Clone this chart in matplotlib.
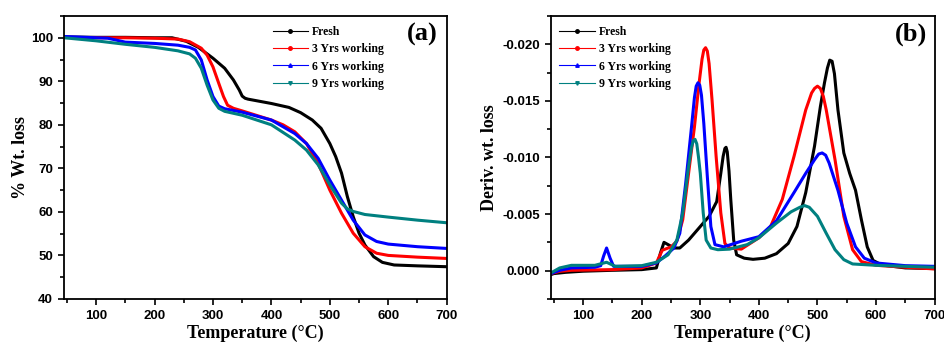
import matplotlib
matplotlib.use("Agg")
import matplotlib.pyplot as plt
from matplotlib.lines import Line2D
from matplotlib.ticker import MultipleLocator, FormatStrFormatter

plt.rcParams['axes.unicode_minus'] = False

labels = ["Fresh", "3 Yrs working", "6 Yrs working", "9 Yrs working"]
colors = ["#000000", "#ff0000", "#0000ff", "#008080"]
markers = ["o", "o", "^", "v"]

# ---- (a) TGA: temperature (°C) vs % weight ----
tga_fresh_T = [45, 100, 150, 200, 230, 254, 275, 300, 320, 335, 345, 350, 355, 360, 400, 430, 450,
               470, 485, 500, 510, 520, 530, 540, 550, 560, 575, 590, 610, 650, 700]
tga_fresh_W = [100.2, 100.1, 100.1, 100.0, 100.0, 99.2, 97.8, 95.3, 93.0, 90.3, 88.0, 86.6, 86.1,
               85.9, 84.9, 84.0, 82.8, 81.1, 79.2, 75.7, 72.7, 68.9, 63.5, 58.9, 55.1, 52.4, 49.7,
               48.4, 47.8, 47.6, 47.4]
tga_3y_T = [45, 100, 150, 200, 240, 260, 280, 290, 300, 310, 318, 325, 335, 350, 400, 420, 440,
            460, 480, 500, 520, 540, 560, 580, 600, 650, 700]
tga_3y_W = [100.1, 100.0, 100.0, 99.9, 99.7, 99.1, 97.6, 96.0, 93.3, 89.5, 86.5, 84.5, 83.8, 83.2,
            81.1, 80.0, 78.4, 75.7, 71.1, 65.0, 59.7, 55.1, 52.0, 50.5, 50.0, 49.6, 49.3]
tga_6y_T = [45, 100, 120, 150, 200, 240, 260, 270, 280, 290, 300, 310, 320, 350, 400, 440, 460,
            480, 500, 520, 540, 560, 580, 600, 650, 700]
tga_6y_W = [100.3, 100.0, 99.9, 99.0, 98.7, 98.3, 97.8, 97.2, 94.9, 90.3, 86.5, 84.3, 83.7, 82.9,
            81.1, 78.0, 75.7, 72.3, 67.3, 62.7, 58.1, 54.7, 53.2, 52.6, 52.0, 51.6]
tga_9y_T = [45, 100, 150, 200, 240, 260, 270, 280, 290, 300, 310, 320, 350, 400, 440, 460, 480,
            500, 520, 530, 540, 560, 600, 650, 700]
tga_9y_W = [100.0, 99.3, 98.5, 97.8, 97.0, 96.3, 95.3, 93.0, 89.1, 85.7, 83.8, 83.1, 82.2, 80.0,
            76.5, 74.2, 70.8, 66.2, 62.0, 60.7, 60.1, 59.4, 58.8, 58.1, 57.5]

# ---- (b) DTG: temperature (°C) vs derivative weight loss (x1e-3, sign as plotted) ----
dtg_fresh_T = [45, 50, 70, 100, 150, 200, 225, 232, 238, 245, 255, 265, 280, 300, 315, 328, 335,
               339, 342, 344, 346, 349, 352, 357, 362, 375, 390, 410, 430, 450, 465, 480, 495,
               505, 512, 517, 521, 525, 529, 535, 545, 555, 565, 575, 585, 595, 610, 650, 700]
dtg_fresh_D = [0.35, 0.26, 0.15, 0.05, -0.03, -0.09, -0.24, -1.56, -2.5, -2.3, -2.0, -2.0, -2.7,
               -3.9, -4.8, -6.1, -8.6, -10.1, -10.8, -10.9, -10.5, -8.8, -6.3, -2.7, -1.4, -1.1,
               -1.0, -1.1, -1.5, -2.4, -3.9, -6.9, -11.0, -14.5, -16.6, -17.9, -18.6, -18.5,
               -17.4, -14.2, -10.4, -8.6, -7.1, -4.5, -2.1, -0.9, -0.5, -0.24, -0.18]
dtg_3y_T = [45, 60, 80, 150, 200, 225, 235, 250, 260, 270, 280, 290, 298, 303, 306, 309, 312, 315,
            320, 327, 335, 342, 350, 370, 400, 420, 440, 460, 480, 490, 495, 500, 505, 510, 515,
            530, 545, 560, 575, 600, 650, 700]
dtg_3y_D = [0.26, 0.06, -0.03, -0.09, -0.24, -0.68, -1.8, -2.1, -2.6, -4.5, -8.6, -12.7, -16.6,
            -18.7, -19.5, -19.7, -19.4, -18.3, -15.1, -10.1, -5.1, -2.4, -2.0, -1.9, -2.9, -3.9,
            -6.3, -10.1, -14.2, -15.7, -16.1, -16.3, -16.1, -15.4, -14.2, -9.8, -4.8, -1.85,
            -0.8, -0.47, -0.3, -0.15]
dtg_6y_T = [45, 60, 80, 120, 130, 135, 140, 146, 152, 200, 225, 240, 255, 265, 275, 285, 290, 293,
            296, 299, 302, 306, 312, 318, 325, 340, 370, 400, 430, 460, 480, 495, 502, 508, 514,
            520, 535, 550, 565, 580, 600, 650, 700]
dtg_6y_D = [0.26, -0.03, -0.24, -0.3, -0.44, -1.3, -2.0, -1.1, -0.38, -0.38, -0.68, -1.3, -2.0,
            -3.3, -7.7, -12.7, -15.3, -16.3, -16.6, -16.4, -15.5, -13.0, -8.3, -3.9, -2.3, -2.1,
            -2.6, -3.0, -4.4, -6.9, -8.6, -9.8, -10.3, -10.4, -10.2, -9.5, -7.1, -4.2, -2.1,
            -1.1, -0.68, -0.44, -0.38]
dtg_9y_T = [45, 60, 80, 120, 140, 155, 200, 225, 245, 260, 270, 280, 285, 288, 291, 294, 297, 300,
            305, 310, 318, 330, 350, 380, 400, 430, 455, 470, 478, 486, 500, 515, 530, 545, 560,
            600, 650, 700]
dtg_9y_D = [0.2, -0.24, -0.47, -0.47, -0.74, -0.38, -0.44, -0.74, -1.4, -2.7, -5.1, -9.2, -10.9,
            -11.5, -11.6, -11.2, -10.0, -8.6, -5.1, -2.7, -2.0, -1.85, -1.9, -2.3, -2.9, -4.2,
            -5.2, -5.6, -5.75, -5.6, -4.8, -3.3, -1.85, -0.97, -0.59, -0.47, -0.38, -0.3]

x_ticks = [100, 200, 300, 400, 500, 600, 700]

serif = "Liberation Serif"
sans = "Liberation Sans"

fig = plt.figure(figsize=(9.45, 3.48), dpi=100)
axa = fig.add_axes([0.0677, 0.141, 0.405, 0.813])
axb = fig.add_axes([0.583, 0.141, 0.406, 0.813])

tga = [(tga_fresh_T, tga_fresh_W), (tga_3y_T, tga_3y_W), (tga_6y_T, tga_6y_W), (tga_9y_T, tga_9y_W)]
dtg = [(dtg_fresh_T, dtg_fresh_D), (dtg_3y_T, dtg_3y_D), (dtg_6y_T, dtg_6y_D), (dtg_9y_T, dtg_9y_D)]

for (t, w), c in zip(tga, colors):
    axa.plot(t, w, color=c, lw=2.2, solid_joinstyle='round')
for (t, d), c in zip(dtg, colors):
    axb.plot(t, [v * 1e-3 for v in d], color=c, lw=2.2, solid_joinstyle='round')

axa.set_xlim(45, 700)
axa.set_ylim(40, 105)
axa.yaxis.set_major_locator(MultipleLocator(10))
axa.yaxis.set_minor_locator(MultipleLocator(5))

axb.set_xlim(45, 700)
axb.set_ylim(0.0025, -0.0225)
axb.yaxis.set_major_locator(MultipleLocator(0.005))
axb.yaxis.set_minor_locator(MultipleLocator(0.0025))
axb.yaxis.set_major_formatter(FormatStrFormatter('%.3f'))

for ax in (axa, axb):
    ax.set_xticks(x_ticks)
    ax.xaxis.set_minor_locator(MultipleLocator(50))
    ax.tick_params(which='both', direction='out', width=1.2, top=False, right=False)
    ax.tick_params(which='major', length=4.5)
    ax.tick_params(which='minor', length=3)
    for lab in ax.get_xticklabels() + ax.get_yticklabels():
        lab.set_fontfamily(sans)
        lab.set_fontweight('bold')
        lab.set_fontsize(9.5)
    for s in ax.spines.values():
        s.set_linewidth(1.3)
    ax.set_xlabel("Temperature (°C)", fontfamily=serif, fontweight='bold', fontsize=13, labelpad=2)

axa.set_ylabel("% Wt. loss", fontfamily=serif, fontweight='bold', fontsize=13, labelpad=1)
axb.set_ylabel("Deriv. wt. loss", fontfamily=serif, fontweight='bold', fontsize=13, labelpad=3)

axa.text(0.975, 0.935, "(a)", transform=axa.transAxes, ha='right', va='center',
         fontfamily=serif, fontweight='bold', fontsize=19)
axb.text(0.98, 0.935, "(b)", transform=axb.transAxes, ha='right', va='center',
         fontfamily=serif, fontweight='bold', fontsize=19)

handles = [Line2D([], [], color=c, lw=0.8, marker=m, ms=2.5) for c, m in zip(colors, markers)]
leg_kw = dict(frameon=False, prop={'family': serif, 'weight': 'bold', 'size': 8.5},
              handlelength=3.0, handletextpad=0.35, labelspacing=0.45, borderaxespad=0,
              borderpad=0, loc='upper left')
axa.legend(handles, labels, bbox_to_anchor=(0.545, 0.965), **leg_kw)
axb.legend(handles, labels, bbox_to_anchor=(0.022, 0.965), **leg_kw)

fig.savefig("out.png", dpi=100)
